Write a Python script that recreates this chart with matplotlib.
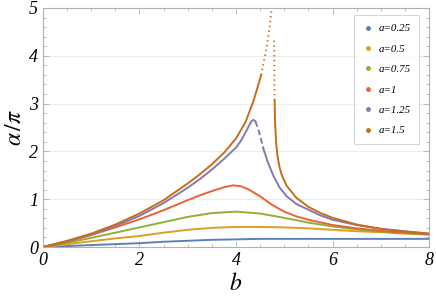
import numpy as np
import matplotlib.pyplot as plt
from matplotlib.ticker import MultipleLocator
from matplotlib.lines import Line2D

# values
b_grid = [0, 0.5, 1, 1.5, 2, 2.5, 3, 3.5, 4, 4.5, 5, 5.5, 6, 6.5, 7, 7.5, 8]
a025 = [0, 0.02, 0.04, 0.06, 0.08, 0.11, 0.13, 0.15, 0.16, 0.17, 0.17, 0.17, 0.17, 0.17, 0.17, 0.17, 0.17]
a05 = [0, 0.06, 0.12, 0.18, 0.23, 0.30, 0.36, 0.40, 0.42, 0.42, 0.41, 0.39, 0.36, 0.33, 0.31, 0.28, 0.26]
a075 = [0, 0.09, 0.19, 0.30, 0.41, 0.52, 0.63, 0.71, 0.74, 0.70, 0.61, 0.51, 0.43, 0.37, 0.32, 0.29, 0.26]

b_a1 = [0, 0.5, 1, 1.5, 2, 2.5, 3, 3.25, 3.5, 3.75, 3.94, 4.1, 4.25, 4.5, 4.75, 5.0,
        5.25, 5.5, 6, 6.5, 7, 7.5, 8]
a1 = [0, 0.11, 0.25, 0.41, 0.58, 0.77, 0.98, 1.08, 1.17, 1.25, 1.29, 1.27, 1.21, 1.06, 0.88, 0.74,
      0.64, 0.57, 0.46, 0.39, 0.34, 0.30, 0.27]

b_a125_up = [0, 0.5, 1, 1.5, 2, 2.5, 3, 3.25, 3.5, 3.75, 4.0, 4.1, 4.2, 4.27, 4.32, 4.36, 4.40]
a125_up = [0, 0.12, 0.26, 0.44, 0.65, 0.92, 1.24, 1.42, 1.62, 1.84, 2.08, 2.22, 2.40, 2.54, 2.63, 2.66, 2.63]
b_a125_down = [4.40, 4.45, 4.5, 4.57, 4.65, 4.77, 4.9, 5.05, 5.25, 5.5, 5.75, 6, 6.5, 7, 7.5, 8]
a125_down = [2.63, 2.50, 2.32, 2.05, 1.80, 1.50, 1.25, 1.06, 0.90, 0.78, 0.66, 0.57, 0.46, 0.38, 0.33, 0.28]

b_a15_left = [0, 0.5, 1, 1.5, 2, 2.5, 3, 3.25, 3.5, 3.75, 4.0, 4.2, 4.36, 4.45, 4.52,
              4.55, 4.63, 4.69, 4.74]
a15_left = [0, 0.13, 0.28, 0.47, 0.70, 0.98, 1.33, 1.52, 1.73, 1.97, 2.27, 2.62, 3.05, 3.35, 3.60,
            3.75, 4.15, 4.55, 5.0]
b_a15_right = [4.79, 4.795, 4.80, 4.81, 4.83, 4.86, 4.9, 4.95, 5.05, 5.25, 5.5, 5.75, 6,
               6.5, 7, 7.5, 8]
a15_right = [4.32, 3.6, 3.07, 2.6, 2.2, 1.9, 1.68, 1.5, 1.28, 1.03, 0.84, 0.71, 0.61,
             0.47, 0.38, 0.32, 0.28]

labels = ['a=0.25', 'a=0.5', 'a=0.75', 'a=1', 'a=1.25', 'a=1.5']
colors = ['#5E81B5', '#E19C24', '#8FB032', '#EB6235', '#8778B3', '#C56E1A']

plt.rcParams['font.family'] = ['Liberation Serif', 'DejaVu Serif']
plt.rcParams['mathtext.fontset'] = 'stix'

fig = plt.figure(figsize=(4.36, 3.04), dpi=100)
ax = fig.add_axes([0.0986, 0.1875, 0.8854, 0.7862])

lw = 1.4
dots = (0, (0.7, 1.8))
ax.plot(b_grid, a025, color=colors[0], lw=lw)
ax.plot(b_grid, a05, color=colors[1], lw=lw)
ax.plot(b_grid, a075, color=colors[2], lw=lw)
ax.plot(b_a1, a1, color=colors[3], lw=lw)
ax.plot(b_a125_up, a125_up, color=colors[4], lw=lw)
ax.plot(b_a125_down[:4], a125_down[:4], color=colors[4], lw=lw, ls=(0, (3, 1.5)))
ax.plot(b_a125_down[3:], a125_down[3:], color=colors[4], lw=lw)
ax.plot(b_a15_left[:15], a15_left[:15], color=colors[5], lw=lw)
ax.plot(b_a15_left[14:], a15_left[14:], color=colors[5], lw=lw, ls=dots)
ax.plot(b_a15_right[:3], a15_right[:3], color=colors[5], lw=lw, ls=dots)
ax.plot(b_a15_right[2:], a15_right[2:], color=colors[5], lw=lw)

ax.set_xlim(0, 8)
ax.set_ylim(0, 5)
ax.xaxis.set_major_locator(MultipleLocator(2))
ax.xaxis.set_minor_locator(MultipleLocator(0.5))
ax.yaxis.set_major_locator(MultipleLocator(1))
ax.yaxis.set_minor_locator(MultipleLocator(0.2))

for y in [1, 2, 3, 4]:
    ax.axhline(y, color='#ececec', lw=0.8, zorder=0)

for s in ax.spines.values():
    s.set_color('#b0b0b0')
    s.set_linewidth(0.8)
ax.tick_params(which='both', direction='in', top=True, right=True, colors='#b0b0b0',
               labelcolor='black', width=0.6)
ax.tick_params(which='major', length=4, labelsize=13)
ax.tick_params(which='minor', length=2)
for t in ax.get_xticklabels() + ax.get_yticklabels():
    t.set_fontstyle('italic')

ax.set_xlabel('$b$', fontsize=17, labelpad=3)
ax.set_ylabel(r'$\alpha\,/\pi$', fontsize=17, labelpad=2)

handles = [Line2D([], [], ls='none', marker='o', ms=2.5, color=c) for c in colors]
leg = ax.legend(handles, labels, loc='upper right', bbox_to_anchor=(0.975, 0.97),
                prop={'family': 'Liberation Serif', 'style': 'italic', 'size': 7.8},
                frameon=True, fancybox=False, handletextpad=0.5, labelspacing=1.0,
                borderpad=0.8, handlelength=1.0, borderaxespad=0)
leg.get_frame().set_edgecolor('#cccccc')
leg.get_frame().set_linewidth(0.8)

fig.savefig('out.png', dpi=100)
